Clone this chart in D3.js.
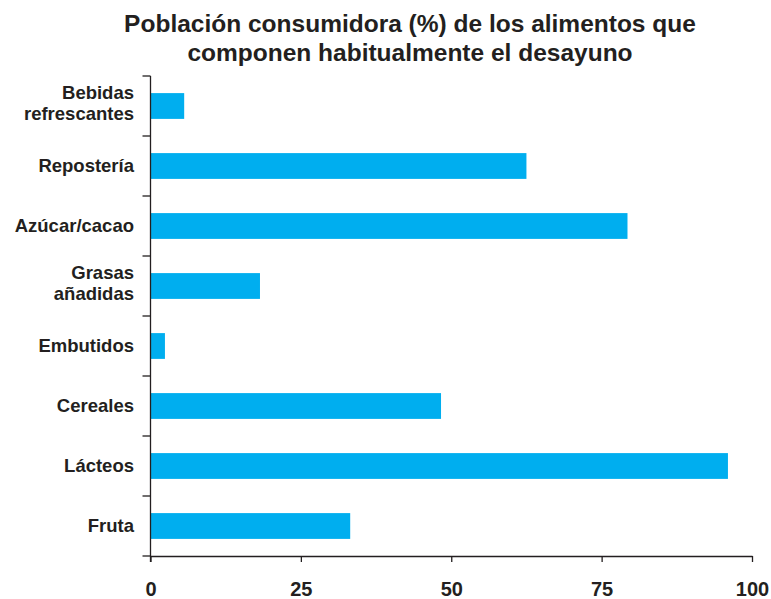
<!DOCTYPE html>
<html><head><meta charset="utf-8">
<script src="https://cdn.jsdelivr.net/npm/d3@7"></script>
<style>body{margin:0;background:#fff}text{font-family:"Liberation Sans",Arial,sans-serif;font-weight:bold;fill:#231f20}</style>
</head><body>
<svg id="c" width="771" height="599"></svg>
<script>
const categories = ["Bebidas|refrescantes","Repostería","Azúcar/cacao","Grasas|añadidas","Embutidos","Cereales","Lácteos","Fruta"];
const values = [5.6, 62.5, 79.3, 18.2, 2.4, 48.3, 96.0, 33.2];
const xTicks = [0, 25, 50, 75, 100];
const titleLines = ["Población consumidora (%) de los alimentos que","componen habitualmente el desayuno"];

const svg = d3.select("#c");
const m = {left:150.5, right:752, top:76, bottom:556};
const x = d3.scaleLinear().domain([0,100]).range([m.left, m.right]);
const y = d3.scaleBand().domain(categories).range([m.top, m.bottom]).paddingInner(0.57).paddingOuter(0.285);

svg.selectAll("text.title").data(titleLines).join("text")
  .attr("x", 410).attr("y",(d,i)=>32+i*29).attr("text-anchor","middle")
  .style("font-size","24.5px").text(d=>d);

svg.selectAll("rect.bar").data(values).join("rect")
  .attr("x", x(0)).attr("y",(d,i)=>y(categories[i]))
  .attr("width", d=>x(d)-x(0)).attr("height", y.bandwidth())
  .attr("fill","#00aeef");

// y axis
const yl = svg.append("g");
yl.append("line").attr("x1",m.left).attr("x2",m.left).attr("y1",m.top).attr("y2",m.bottom+6).attr("stroke","#231f20").attr("stroke-width",1.3);
const step = y.step();
d3.range(categories.length+1).forEach(i=>{
  const yy = m.top + i*step;
  yl.append("line").attr("x1",m.left-8).attr("x2",m.left).attr("y1",yy).attr("y2",yy).attr("stroke","#231f20").attr("stroke-width",1.3);
});
categories.forEach(c=>{
  const lines = c.split("|");
  const cy = y(c)+y.bandwidth()/2;
  const off = lines.length > 1 ? 3.5 : 5.5;
  lines.forEach((l,j)=>{
    svg.append("text").attr("x",134).attr("y", cy + off + (j-(lines.length-1)/2)*20.5)
      .attr("text-anchor","end").style("font-size","18.5px").text(l);
  });
});

// x axis
const xa = svg.append("g").attr("transform",`translate(0,${m.bottom})`)
  .call(d3.axisBottom(x).tickValues(xTicks).tickSize(6).tickSizeOuter(0).tickPadding(20));
xa.select(".domain").attr("stroke","#231f20").attr("stroke-width",1.3);
xa.selectAll(".tick line").attr("stroke","#231f20").attr("stroke-width",1.3);
xa.selectAll(".tick text").style("font-size","20px").style("font-family","'Liberation Sans',Arial,sans-serif").attr("fill","#231f20");
</script>
</body></html>
